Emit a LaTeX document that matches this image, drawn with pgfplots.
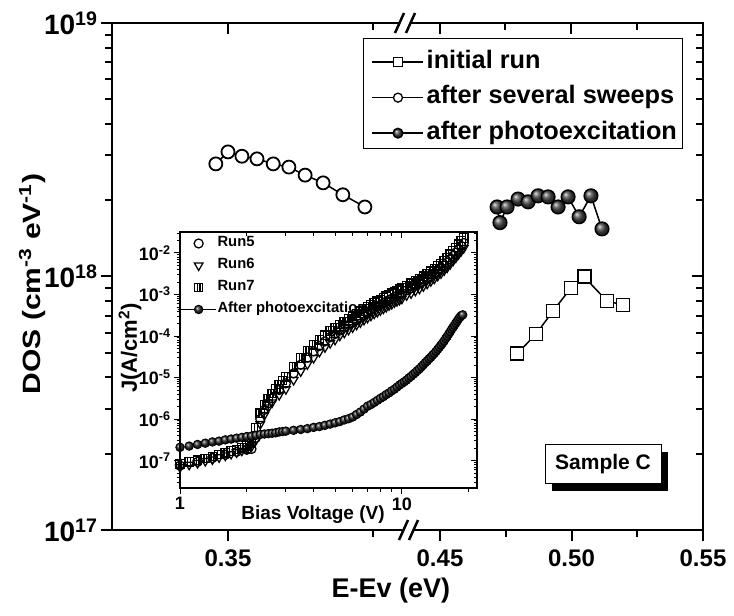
\documentclass[border=0pt]{standalone}
\usepackage{pgfplots}
\pgfplotsset{compat=1.18}
\usepackage{fontspec}
\setmainfont{Liberation Sans}
\pgfdeclareplotmark{sqbar}{%
  \pgfpathrectangle{\pgfqpoint{-\pgfplotmarksize}{-\pgfplotmarksize}}{\pgfqpoint{2\pgfplotmarksize}{2\pgfplotmarksize}}%
  \pgfpathmoveto{\pgfqpoint{-0.33\pgfplotmarksize}{-\pgfplotmarksize}}%
  \pgfpathlineto{\pgfqpoint{-0.33\pgfplotmarksize}{\pgfplotmarksize}}%
  \pgfpathmoveto{\pgfqpoint{0.33\pgfplotmarksize}{-\pgfplotmarksize}}%
  \pgfpathlineto{\pgfqpoint{0.33\pgfplotmarksize}{\pgfplotmarksize}}%
  \pgfusepathqstroke}
\pgfplotsset{
  insetticks/.style={
    xtick={1,10}, minor xtick={2,3,4,5,6,7,8,9,20},
    ytick={1e-7,1e-6,1e-5,1e-4,1e-3,1e-2},
    minor ytick={3e-8,4e-8,5e-8,6e-8,7e-8,8e-8,9e-8,
      2e-7,3e-7,4e-7,5e-7,6e-7,7e-7,8e-7,9e-7,
      2e-6,3e-6,4e-6,5e-6,6e-6,7e-6,8e-6,9e-6,
      2e-5,3e-5,4e-5,5e-5,6e-5,7e-5,8e-5,9e-5,
      2e-4,3e-4,4e-4,5e-4,6e-4,7e-4,8e-4,9e-4,
      2e-3,3e-3,4e-3,5e-3,6e-3,7e-3,8e-3,9e-3,
      2e-2,3e-2}}}
\begin{document}
\begin{tikzpicture}
\useasboundingbox (0pt,0pt) rectangle (734pt,-616pt);
% ---------- left segment ----------
\begin{axis}[
  at={(112pt,-530pt)}, anchor=south west, scale only axis, width=298pt, height=507pt,
  xmin=0.33, xmax=0.38138, ymode=log, ymin=1e17, ymax=1e19,
  axis x line*=bottom, axis y line*=left, axis line style={draw=none},
  xtick={0.35}, minor xtick={0.375}, xticklabels={0.35},
  yticklabels={10\textsuperscript{17},10\textsuperscript{18},10\textsuperscript{19}},
  tick align=outside, major tick length=11pt, minor tick length=7pt,
  tick style={black,line width=2pt},
  xticklabel style={font=\fontsize{24}{24}\selectfont\bfseries, yshift=-5pt},
  yticklabel style={font=\fontsize{28}{28}\selectfont\bfseries},
  clip=false]
\addplot[black, line width=1.5pt, mark=*, mark size=6.5pt, mark options={fill=white, line width=1.8pt}] coordinates {
(0.3479,2.78e18)(0.3500,3.10e18)(0.3524,2.98e18)(0.3550,2.91e18)(0.3578,2.78e18)
(0.3605,2.70e18)(0.3633,2.51e18)(0.3664,2.34e18)(0.3698,2.10e18)(0.3736,1.88e18)};
\end{axis}
% ---------- right segment ----------
\begin{axis}[
  at={(418pt,-530pt)}, anchor=south west, scale only axis, width=285pt, height=507pt,
  xmin=0.441635, xmax=0.55, ymode=log, ymin=1e17, ymax=1e19,
  axis x line*=bottom, axis y line=none, axis line style={draw=none},
  xtick={0.45,0.50,0.55}, minor xtick={0.475,0.525}, xticklabels={0.45,0.50,0.55},
  tick align=outside, major tick length=11pt, minor tick length=7pt,
  tick style={black,line width=2pt},
  xticklabel style={font=\fontsize{24}{24}\selectfont\bfseries, yshift=-5pt},
  clip=false]
\addplot[black, line width=1.5pt, mark=square*, mark size=6.5pt, mark options={fill=white, line width=1.8pt}] coordinates {
(0.4793,4.95e17)(0.4865,5.93e17)(0.4930,7.31e17)(0.4998,9.01e17)(0.5048,9.96e17)(0.5135,8.00e17)(0.5196,7.72e17)};
\addplot[black, line width=1.5pt, mark=ball, mark size=6.8pt, mark options={ball color=black!72}] coordinates {
(0.4717,1.88e18)(0.4728,1.63e18)(0.4755,1.88e18)(0.4797,2.02e18)(0.4835,1.97e18)(0.4873,2.08e18)
(0.4911,2.06e18)(0.4949,1.88e18)(0.4987,2.06e18)(0.5029,1.72e18)(0.5074,2.08e18)(0.5116,1.54e18)};
\end{axis}
% ---------- legend box ----------
\draw[line width=1pt, fill=white] (363pt,-38pt) rectangle (682pt,-148pt);
% ---------- frame with top/right inner ticks and legend ----------
\begin{axis}[
  at={(112pt,-530pt)}, anchor=south west, scale only axis, width=591pt, height=507pt,
  xmin=112, xmax=703, ymode=log, ymin=1e17, ymax=1e19,
  xtick={228,440,571,703}, minor xtick={373,505,637},
  xticklabels={}, yticklabels={},
  xtick pos=right, ytick pos=right, tick align=inside,
  major tick length=11pt, minor tick length=7pt, tick style={black,line width=2pt},
  axis line style={line width=2.5pt},
  legend style={at={(axis description cs:0.4349,0.9546)}, anchor=north west,
    draw=none, fill=none, inner sep=2pt,
    font=\fontsize{25.3}{25.3}\selectfont\bfseries, row sep=7.5pt,
    nodes={inner sep=3pt, text height=17pt, text depth=5pt}},
  legend cell align=left,
  legend image code/.code={\draw[mark repeat=2,mark phase=2,#1] plot coordinates {(-3pt,0pt) (23pt,0pt) (48pt,0pt)};}]
\addlegendimage{black, line width=1.5pt, mark=square*, mark size=4.5pt, mark options={fill=white, line width=1.3pt}}
\addlegendentry{initial run}
\addlegendimage{black, line width=1.5pt, mark=*, mark size=4.5pt, mark options={fill=white, line width=1.3pt}}
\addlegendentry{after several sweeps}
\addlegendimage{black, line width=1.5pt, mark=ball, mark size=4.8pt, mark options={ball color=black!72}}
\addlegendentry{after photoexcitation}
\end{axis}
% ---------- axis breaks ----------
\draw[white, line width=4pt] (400pt,-23pt) -- (411pt,-23pt);
\draw[white, line width=4pt] (402pt,-530pt) -- (413pt,-530pt);
\draw[black, line width=2.5pt] (395pt,-33pt) -- (404pt,-13pt);
\draw[black, line width=2.5pt] (406pt,-33pt) -- (415pt,-13pt);
\draw[black, line width=2.5pt] (399pt,-540pt) -- (408pt,-520pt);
\draw[black, line width=2.5pt] (409pt,-540pt) -- (418pt,-520pt);
% ---------- Sample C ----------
\fill[black] (552pt,-452pt) rectangle (668pt,-491pt);
\draw[fill=white, line width=1pt] (545pt,-444pt) rectangle (661pt,-483pt);
\node[font=\fontsize{21}{21}\selectfont\bfseries] at (603pt,-464pt) {Sample C};
% ---------- main labels ----------
\node[font=\fontsize{27}{27}\selectfont\bfseries] at (391pt,-591pt) {E-Ev (eV)};
\node[rotate=90, font=\fontsize{25}{25}\selectfont\bfseries] at (32pt,-284pt) {\scalebox{1.2}[1]{DOS (cm\textsuperscript{-3} eV\textsuperscript{-1})}};
% ---------- inset ----------
\fill[white] (180pt,-232pt) rectangle (477pt,-488pt);
\begin{axis}[
  at={(180pt,-488pt)}, anchor=south west, scale only axis, width=297pt, height=256pt,
  xmode=log, ymode=log, xmin=1, xmax=21.8, ymin=2.19e-8, ymax=3.2e-2,
  axis x line*=bottom, axis y line*=left, axis line style={draw=none},
  insetticks, xticklabels={1,10},
  yticklabels={10\textsuperscript{-7},10\textsuperscript{-6},10\textsuperscript{-5},10\textsuperscript{-4},10\textsuperscript{-3},10\textsuperscript{-2}},
  tick align=outside, major tick length=6pt, minor tick length=3.5pt,
  tick style={black,line width=1pt},
  ticklabel style={font=\fontsize{18}{18}\selectfont\bfseries},
  legend style={at={(axis description cs:-0.02,0.995)}, anchor=north west, draw=none, fill=none,
    font=\fontsize{14.8}{14.8}\selectfont\bfseries, row sep=6pt,
    nodes={inner sep=1.5pt, text height=10pt, text depth=3pt}},
  legend cell align=left,
  legend image code/.code={\draw[mark repeat=2,mark phase=2,#1] plot coordinates {(0pt,0pt) (21pt,0pt) (38pt,0pt)};}]
\addplot[only marks, black, mark=o, mark size=4.5pt, line width=1.25pt] coordinates {
(1.0,7.59e-8)(1.2,9.33e-8)(1.4,1.15e-7)(1.6,1.38e-7)(1.8,1.62e-7)(2.0,1.82e-7)(2.1,1.91e-7)(2.2,3.55e-7)
(2.3,1.00e-6)(2.4,1.66e-6)(2.5,2.40e-6)(2.6,3.16e-6)(2.8,5.01e-6)(3.0,7.24e-6)
(3.25,1.26e-5)(3.5,2.04e-5)(3.75,3.02e-5)(4.0,4.27e-5)(4.25,5.75e-5)(4.5,7.41e-5)(4.75,9.33e-5)(5.0,1.12e-4)
(5.25,1.35e-4)(5.5,1.58e-4)(5.75,1.86e-4)(6.0,2.14e-4)(6.25,2.45e-4)(6.5,2.82e-4)(6.75,3.24e-4)(7.0,3.63e-4)
(7.25,4.17e-4)(7.5,4.68e-4)(7.75,5.13e-4)(8.0,5.62e-4)(8.25,6.17e-4)(8.5,6.76e-4)(8.75,7.41e-4)(9.0,7.94e-4)
(9.25,8.71e-4)(9.5,9.33e-4)(9.75,1.00e-3)(10,1.07e-3)(10.5,1.26e-3)(11,1.41e-3)(11.5,1.62e-3)(12,1.82e-3)
(12.5,2.09e-3)(13,2.40e-3)(13.5,2.75e-3)(14,3.16e-3)(14.5,3.72e-3)(15,4.27e-3)(15.5,5.01e-3)(16,5.89e-3)
(16.5,7.08e-3)(17,8.51e-3)(17.5,1.02e-2)(18,1.23e-2)(18.5,1.48e-2)(19,1.74e-2)};
\addlegendentry{Run5}
\addplot[only marks, black, mark=triangle, mark size=5pt, mark options={rotate=180}, line width=1.25pt] coordinates {
(1.0,6.92e-8)(1.1,7.94e-8)(1.2,8.71e-8)(1.3,9.77e-8)(1.4,1.07e-7)(1.5,1.20e-7)(1.6,1.32e-7)(1.7,1.45e-7)
(1.8,1.58e-7)(1.9,1.74e-7)(2.0,1.95e-7)(2.1,2.19e-7)(2.2,3.16e-7)(2.3,7.59e-7)(2.4,1.26e-6)(2.5,1.91e-6)
(2.6,2.51e-6)(2.8,3.80e-6)(3.0,5.25e-6)
(3.25,8.71e-6)(3.5,1.41e-5)(3.75,2.09e-5)(4.0,2.95e-5)(4.25,4.17e-5)(4.5,5.37e-5)(4.75,6.76e-5)(5.0,8.13e-5)
(5.25,1.02e-4)(5.5,1.20e-4)(5.75,1.41e-4)(6.0,1.62e-4)(6.25,1.86e-4)(6.5,2.14e-4)(6.75,2.45e-4)(7.0,2.75e-4)
(7.25,3.09e-4)(7.5,3.47e-4)(7.75,3.80e-4)(8.0,4.17e-4)(8.25,4.57e-4)(8.5,5.01e-4)(8.75,5.50e-4)(9.0,5.89e-4)
(9.25,6.46e-4)(9.5,6.92e-4)(9.75,7.41e-4)(10,7.94e-4)(10.5,9.55e-4)(11,1.07e-3)(11.5,1.23e-3)(12,1.38e-3)
(12.5,1.58e-3)(13,1.82e-3)(13.5,2.09e-3)(14,2.40e-3)(14.5,2.82e-3)(15,3.24e-3)(15.5,3.80e-3)(16,4.47e-3)
(16.5,5.37e-3)(17,6.46e-3)(17.5,7.76e-3)(18,9.33e-3)(18.5,1.12e-2)(19,1.32e-2)};
\addlegendentry{Run6}
\addplot[only marks, black, mark=sqbar, mark size=4.2pt, line width=1.25pt] coordinates {
(1.0,8.32e-8)(1.1,9.33e-8)(1.2,1.02e-7)(1.3,1.12e-7)(1.4,1.26e-7)(1.5,1.41e-7)(1.6,1.55e-7)(1.7,1.70e-7)
(1.8,1.86e-7)(1.9,2.04e-7)(2.0,2.29e-7)(2.1,2.63e-7)(2.2,6.31e-7)(2.3,1.38e-6)(2.4,2.19e-6)(2.5,3.16e-6)
(2.6,4.17e-6)(2.7,5.37e-6)(2.8,6.76e-6)(2.9,8.51e-6)(3.0,1.05e-5)(3.25,1.82e-5)(3.5,2.95e-5)(3.75,4.37e-5)
(4.0,6.17e-5)(4.25,8.13e-5)(4.5,1.05e-4)(4.75,1.32e-4)(5.0,1.58e-4)(5.25,1.91e-4)(5.5,2.24e-4)(5.75,2.63e-4)
(6.0,3.02e-4)(6.25,3.47e-4)(6.5,3.98e-4)(6.75,4.57e-4)(7.0,5.13e-4)(7.25,5.62e-4)(7.5,6.31e-4)(7.75,6.92e-4)
(8.0,7.59e-4)(8.25,8.32e-4)(8.5,9.12e-4)(8.75,1.00e-3)(9.0,1.07e-3)(9.25,1.17e-3)(9.5,1.26e-3)(9.75,1.35e-3)
(10.0,1.45e-3)(10.5,1.66e-3)(11.0,1.86e-3)(11.5,2.14e-3)(12.0,2.40e-3)(12.5,2.75e-3)(13.0,3.16e-3)(13.5,3.63e-3)
(14.0,4.17e-3)(14.5,4.90e-3)(15.0,5.62e-3)(15.5,6.61e-3)(16.0,7.76e-3)(16.5,9.33e-3)(17.0,1.12e-2)(17.5,1.35e-2)
(18.0,1.62e-2)(18.5,1.95e-2)(19.0,2.29e-2)};
\addlegendentry{Run7}
\addplot[black, line width=0.8pt, mark=ball, mark size=4.3pt, mark options={ball color=black!85}] coordinates {
(1.0,2.09e-7)(1.1,2.24e-7)(1.2,2.45e-7)(1.3,2.63e-7)(1.4,2.82e-7)(1.5,2.95e-7)(1.6,3.16e-7)(1.7,3.31e-7)
(1.8,3.47e-7)(1.9,3.63e-7)(2.0,3.80e-7)(2.1,3.89e-7)(2.2,4.07e-7)(2.3,4.27e-7)(2.4,4.37e-7)(2.5,4.47e-7)
(2.6,4.57e-7)(2.7,4.68e-7)(2.8,4.90e-7)(2.9,5.01e-7)(3.0,5.13e-7)(3.25,5.37e-7)(3.5,5.62e-7)(3.75,5.89e-7)
(4.0,6.31e-7)(4.25,6.61e-7)(4.5,7.08e-7)(4.75,7.59e-7)(5.0,8.13e-7)(5.25,8.71e-7)(5.5,9.55e-7)(5.75,1.02e-6)
(6.0,1.12e-6)(6.25,1.29e-6)(6.5,1.48e-6)(6.75,1.74e-6)(7.0,2.04e-6)(7.25,2.24e-6)(7.5,2.51e-6)(7.75,2.82e-6)
(8.0,3.16e-6)(8.25,3.47e-6)(8.5,3.89e-6)(8.75,4.27e-6)(9.0,4.79e-6)(9.25,5.25e-6)(9.5,5.89e-6)(9.75,6.61e-6)
(10.0,7.24e-6)(10.25,7.94e-6)(10.5,8.71e-6)(10.75,9.77e-6)(11.0,1.07e-5)(11.25,1.20e-5)(11.5,1.32e-5)(11.75,1.48e-5)
(12.0,1.62e-5)(12.25,1.82e-5)(12.5,2.04e-5)(12.75,2.29e-5)(13.0,2.51e-5)(13.25,2.82e-5)(13.5,3.09e-5)(13.75,3.47e-5)
(14.0,3.80e-5)(14.25,4.27e-5)(14.5,4.79e-5)(14.75,5.37e-5)(15.0,6.03e-5)(15.25,6.76e-5)(15.5,7.59e-5)(15.75,8.71e-5)
(16.0,9.77e-5)(16.25,1.12e-4)(16.5,1.26e-4)(16.75,1.45e-4)(17.0,1.62e-4)(17.25,1.82e-4)(17.5,2.04e-4)(17.75,2.29e-4)
(18.0,2.57e-4)(18.25,2.82e-4)(18.5,3.09e-4)(18.8,3.24e-4)};
\addlegendentry{After photoexcitation}
\end{axis}
\begin{axis}[
  at={(180pt,-488pt)}, anchor=south west, scale only axis, width=297pt, height=256pt,
  xmode=log, ymode=log, xmin=1, xmax=21.8, ymin=2.19e-8, ymax=3.2e-2,
  insetticks, xticklabels={}, yticklabels={},
  xtick pos=right, ytick pos=right, tick align=inside,
  major tick length=6pt, minor tick length=3.5pt, tick style={black,line width=1pt},
  axis line style={line width=1.5pt}]
\end{axis}
\node[rotate=90, font=\fontsize{22}{22}\selectfont\bfseries] at (130pt,-348pt) {J(A/cm\textsuperscript{2})};
\node[font=\fontsize{19}{19}\selectfont\bfseries] at (313pt,-515pt) {Bias Voltage (V)};
\end{tikzpicture}
\end{document}
